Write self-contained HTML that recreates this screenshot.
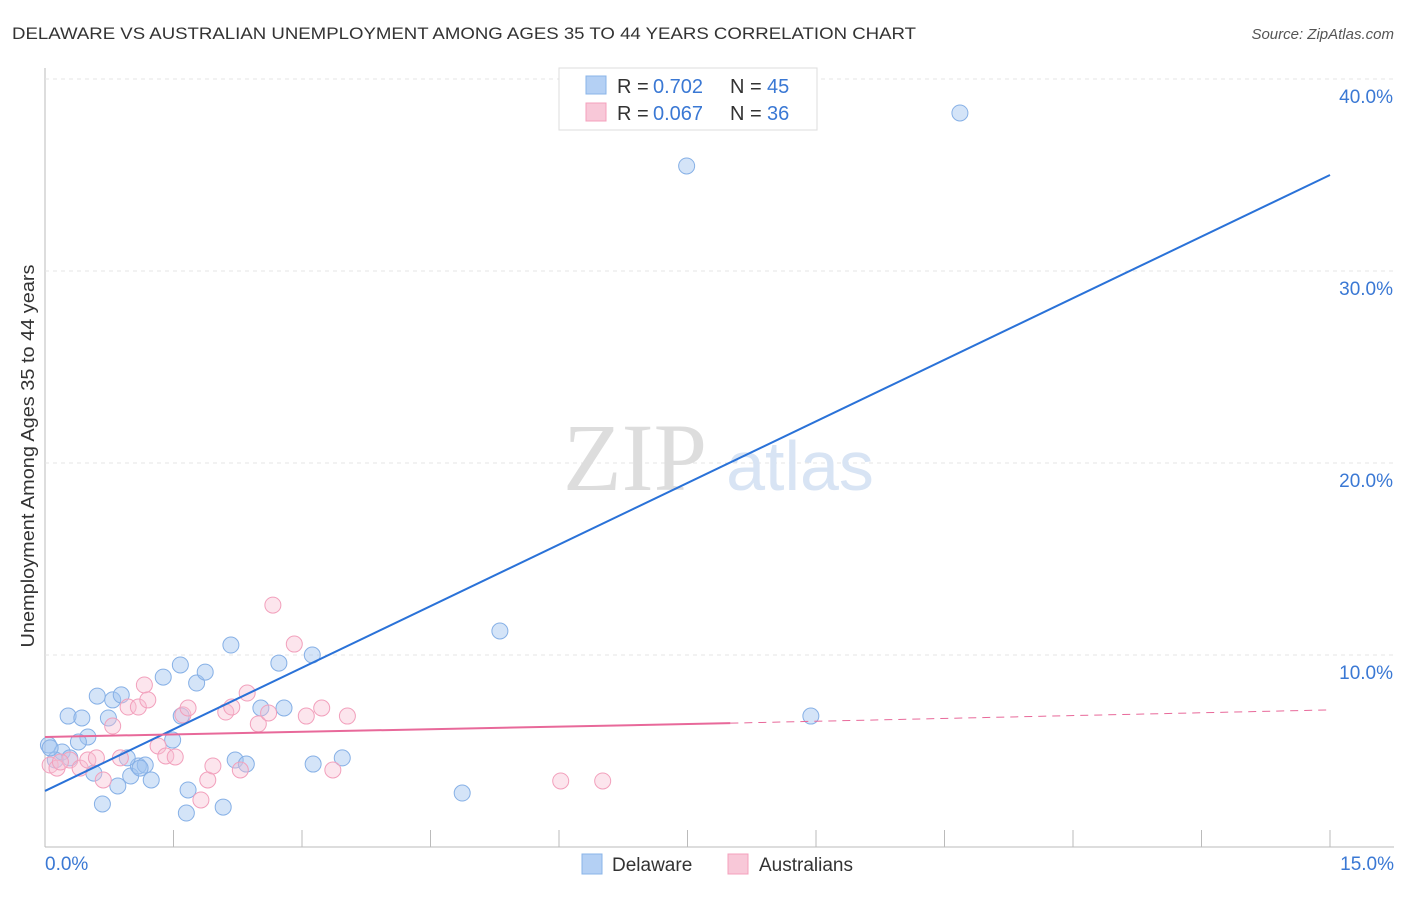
<!DOCTYPE html>
<html><head><meta charset="utf-8"><style>
body{margin:0;background:#fff;font-family:"Liberation Sans",sans-serif;}
</style></head><body>
<svg id="chart" width="1406" height="892" font-family="Liberation Sans, sans-serif">
<text x="12" y="39" font-size="17" fill="#333" textLength="904" lengthAdjust="spacingAndGlyphs">DELAWARE VS AUSTRALIAN UNEMPLOYMENT AMONG AGES 35 TO 44 YEARS CORRELATION CHART</text>
<text x="1394" y="39" font-size="15" fill="#555" font-style="italic" text-anchor="end">Source: ZipAtlas.com</text>
<text x="34" y="456" font-size="18" fill="#333" text-anchor="middle" textLength="383" lengthAdjust="spacingAndGlyphs" transform="rotate(-90 34 456)">Unemployment Among Ages 35 to 44 years</text>
<g id="grid"></g>
<text x="635" y="490" font-size="96" fill="#ddd" style="font-family:'Liberation Serif',serif" text-anchor="middle">ZIP</text>
<text x="800" y="490" font-size="70" fill="#d8e4f4" text-anchor="middle">atlas</text>
<g id="marks"></g>
<g>
<rect x="559" y="68" width="258" height="62" fill="#fff" stroke="#ddd"/>
<rect x="586" y="76" width="20" height="18" fill="#b4d0f4" stroke="#8ab4e8"/>
<text x="617" y="93" font-size="20" fill="#333">R =</text>
<text x="653" y="93" font-size="20" fill="#3a78d4">0.702</text>
<text x="730" y="93" font-size="20" fill="#333">N =</text>
<text x="767" y="93" font-size="20" fill="#3a78d4">45</text>
<rect x="586" y="103" width="20" height="18" fill="#f8c8d8" stroke="#f4a0bc"/>
<text x="617" y="120" font-size="20" fill="#333">R =</text>
<text x="653" y="120" font-size="20" fill="#3a78d4">0.067</text>
<text x="730" y="120" font-size="20" fill="#333">N =</text>
<text x="767" y="120" font-size="20" fill="#3a78d4">36</text>
</g>
<g>
<rect x="582" y="854" width="20" height="20" fill="#b4d0f4" stroke="#8ab4e8"/>
<text x="612" y="871" font-size="19" fill="#333">Delaware</text>
<rect x="728" y="854" width="20" height="20" fill="#f8c8d8" stroke="#f4a0bc"/>
<text x="759" y="871" font-size="19" fill="#333">Australians</text>
</g>
</svg>
<script>
const xTicks=[0,1.5,3,4.5,6,7.5,9,10.5,12,13.5,15];
const yTicks=[10,20,30,40];
const blueX=[0.04,0.20,0.27,0.43,0.50,0.39,0.61,0.79,0.89,0.74,0.57,0.67,0.85,1.00,1.09,1.17,0.96,1.24,1.38,1.58,1.49,1.59,1.67,1.65,1.77,1.87,2.08,2.17,2.22,2.35,2.52,2.73,2.79,3.12,3.13,3.47,4.87,5.31,7.49,8.94,10.68,0.12,0.29,0.06,1.11];
const blueY=[5.31,4.95,6.82,6.72,5.73,5.47,7.86,7.66,7.92,6.72,3.85,2.24,3.18,3.70,4.22,4.27,4.64,3.49,8.85,9.48,5.57,6.82,2.97,1.77,8.54,9.11,2.08,10.52,4.53,4.32,7.24,9.58,7.24,10.0,4.32,4.64,2.81,11.25,35.47,6.82,38.23,4.53,4.64,5.16,4.11];
const pinkX=[0.06,0.14,0.29,0.41,0.50,0.60,0.68,0.79,0.97,1.09,1.16,1.20,1.32,1.41,1.52,1.61,1.67,1.82,1.90,1.96,2.11,2.18,2.28,2.36,2.49,2.61,2.66,2.91,3.05,3.23,3.36,3.53,6.02,6.51,0.18,0.88];
const pinkY=[4.27,4.11,4.53,4.11,4.53,4.64,3.49,6.30,7.29,7.29,8.44,7.66,5.26,4.74,4.69,6.88,7.24,2.45,3.49,4.22,7.03,7.29,4.01,8.02,6.41,6.98,12.60,10.57,6.82,7.24,4.01,6.82,3.44,3.44,4.43,4.64];
const blueLine=[2.92,35.0];
const pinkLine=[5.73,6.45,7.14];
const sx=v=>45+v*1285/15, sy=v=>847-v*19.2;
const NS='http://www.w3.org/2000/svg';
const grid=document.getElementById('grid'), marks=document.getElementById('marks');
function mk(tag,attrs,parent){const e=document.createElementNS(NS,tag);for(const k in attrs)e.setAttribute(k,attrs[k]);parent.appendChild(e);return e;}
let ax=mk('line',{x1:45,y1:68,x2:45,y2:847,stroke:'#bbb'},grid);


let bx=mk('line',{x1:45,y1:847,x2:1394,y2:847,stroke:'#bbb'},grid);


yTicks.forEach(t=>{
 const l=mk('line',{x1:45,x2:1394,y1:sy(t),y2:sy(t),stroke:'#e4e4e4','stroke-dasharray':'4,4'},grid);
 
 
 const tx=mk('text',{x:1393,y:sy(t)+24,'font-size':19,fill:'#3a78d4','text-anchor':'end'},grid);
 tx.textContent=t.toFixed(1)+'%';
 
 
});
xTicks.forEach(t=>{
 const l=mk('line',{x1:sx(t),x2:sx(t),y1:830,y2:847,stroke:'#bbb'},grid);
 
 
});
[[0,'start',45],[15,'end',1394]].forEach(([t,a,x])=>{
 const tx=mk('text',{x:x,y:870,'font-size':19,fill:'#3a78d4','text-anchor':a},grid);
 tx.textContent=t.toFixed(1)+'%';
 
 
});
blueX.forEach((x,i)=>{
 const c=mk('circle',{cx:sx(x),cy:sy(blueY[i]),r:8,fill:'rgba(160,196,240,0.45)',stroke:'#86b0e6','stroke-width':1},marks);
 
 
});
pinkX.forEach((x,i)=>{
 const c=mk('circle',{cx:sx(x),cy:sy(pinkY[i]),r:8,fill:'rgba(248,190,210,0.4)',stroke:'#f2a0bc','stroke-width':1},marks);
 
 
});
const bl=mk('line',{x1:sx(0),y1:sy(blueLine[0]),x2:sx(15),y2:sy(blueLine[1]),stroke:'#2a72d8','stroke-width':2},marks);


const pl=mk('line',{x1:sx(0),y1:sy(pinkLine[0]),x2:sx(8),y2:sy(pinkLine[1]),stroke:'#e8699a','stroke-width':2},marks);


const pd=mk('line',{x1:sx(8),y1:sy(pinkLine[1]),x2:sx(15),y2:sy(pinkLine[2]),stroke:'#e8699a','stroke-width':1,'stroke-dasharray':'8,6'},marks);


</script>
</body></html>
